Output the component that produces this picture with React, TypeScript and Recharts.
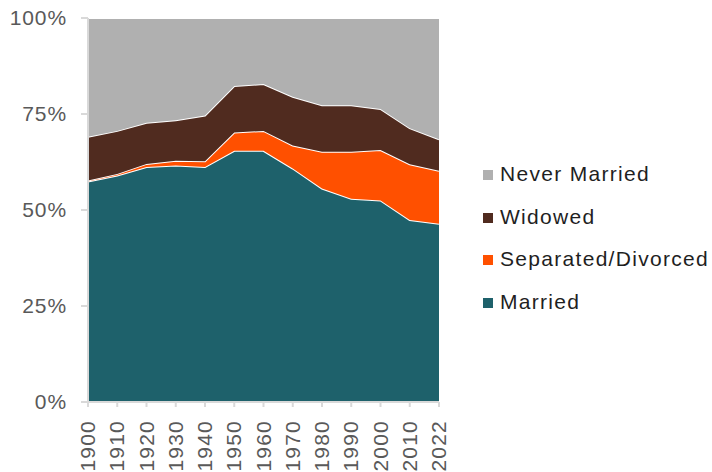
import { AreaChart, Area, XAxis, YAxis, Legend } from 'recharts'

const years = ['1900', '1910', '1920', '1930', '1940', '1950', '1960', '1970', '1980', '1990', '2000', '2010', '2022']
const married = [57.4, 59.0, 61.2, 61.6, 61.2, 65.4, 65.4, 60.8, 55.6, 52.9, 52.5, 47.4, 46.4]
const divorced = [0.3, 0.4, 0.8, 1.2, 1.5, 4.8, 5.2, 6.0, 9.6, 12.3, 13.1, 14.5, 13.8]
const widowed = [11.4, 11.2, 10.7, 10.6, 11.9, 12.1, 12.2, 12.7, 12.1, 12.1, 10.7, 9.4, 8.2]
const neverMarried = [30.9, 29.4, 27.3, 26.6, 25.4, 17.7, 17.2, 20.5, 22.7, 22.7, 23.7, 28.7, 31.6]
const yTicks = [0, 25, 50, 75, 100]

const series = [
    { key: 'married', name: 'Married', color: '#1e616b' },
    { key: 'divorced', name: 'Separated/Divorced', color: '#ff5000' },
    { key: 'widowed', name: 'Widowed', color: '#502b1f' },
    { key: 'never', name: 'Never Married', color: '#b0b0b0' },
]

const data = years.map((year, i) => ({
    year,
    married: married[i],
    divorced: divorced[i],
    widowed: widowed[i],
    never: neverMarried[i],
}))

const FONT = '"Liberation Sans", Arial, sans-serif'

function YearTick({ x, y, payload }: any) {
    return (
        <g transform={`translate(${x},${y + 11}) rotate(-90)`}>
            <text x={0} y={0} dy={7} textAnchor="end" fill="#595959" fontSize={21} letterSpacing={1.2} fontFamily={FONT}>
                {payload.value}
            </text>
        </g>
    )
}

function SideLegend() {
    // legend lists the top series first
    const items = [...series].reverse()
    return (
        <div style={{ fontFamily: FONT }}>
            {items.map((s) => (
                <div key={s.key} style={{ display: 'flex', alignItems: 'center', height: 42.5 }}>
                    <span style={{ width: 10, height: 10, background: s.color, marginRight: 7, marginTop: 2 }} />
                    <span style={{ fontSize: 21, color: '#1f1f1f', letterSpacing: 1.3 }}>{s.name}</span>
                </div>
            ))}
        </div>
    )
}

export default function App() {
    return (
        <div style={{ position: 'fixed', left: 0, top: 0, background: '#fff' }}>
            <AreaChart width={712} height={472} data={data} margin={{ top: 18, right: 273, left: 0, bottom: 0 }}>
                <XAxis
                    dataKey="year"
                    interval={0}
                    height={70}
                    tick={<YearTick />}
                    tickSize={5}
                    axisLine={{ stroke: '#d9d9d9', strokeWidth: 2 }}
                    tickLine={{ stroke: '#d9d9d9', strokeWidth: 2 }}
                />
                <YAxis
                    width={88}
                    domain={[0, 100]}
                    ticks={yTicks}
                    tickFormatter={(v) => `${v}%`}
                    tickSize={7}
                    tickMargin={14}
                    tick={{ fill: '#595959', fontSize: 21, fontFamily: FONT, letterSpacing: 0.9 }}
                    axisLine={{ stroke: '#d9d9d9', strokeWidth: 2 }}
                    tickLine={{ stroke: '#d9d9d9', strokeWidth: 2 }}
                />
                {series.map((s) => (
                    <Area
                        key={s.key}
                        type="linear"
                        dataKey={s.key}
                        name={s.name}
                        stackId="1"
                        fill={s.color}
                        fillOpacity={1}
                        stroke="#ffffff"
                        strokeWidth={2}
                        isAnimationActive={false}
                    />
                ))}
                <Legend
                    layout="vertical"
                    align="center"
                    verticalAlign="middle"
                    content={<SideLegend />}
                    wrapperStyle={{ left: 483, top: 153, width: 229 }}
                />
            </AreaChart>
        </div>
    )
}
